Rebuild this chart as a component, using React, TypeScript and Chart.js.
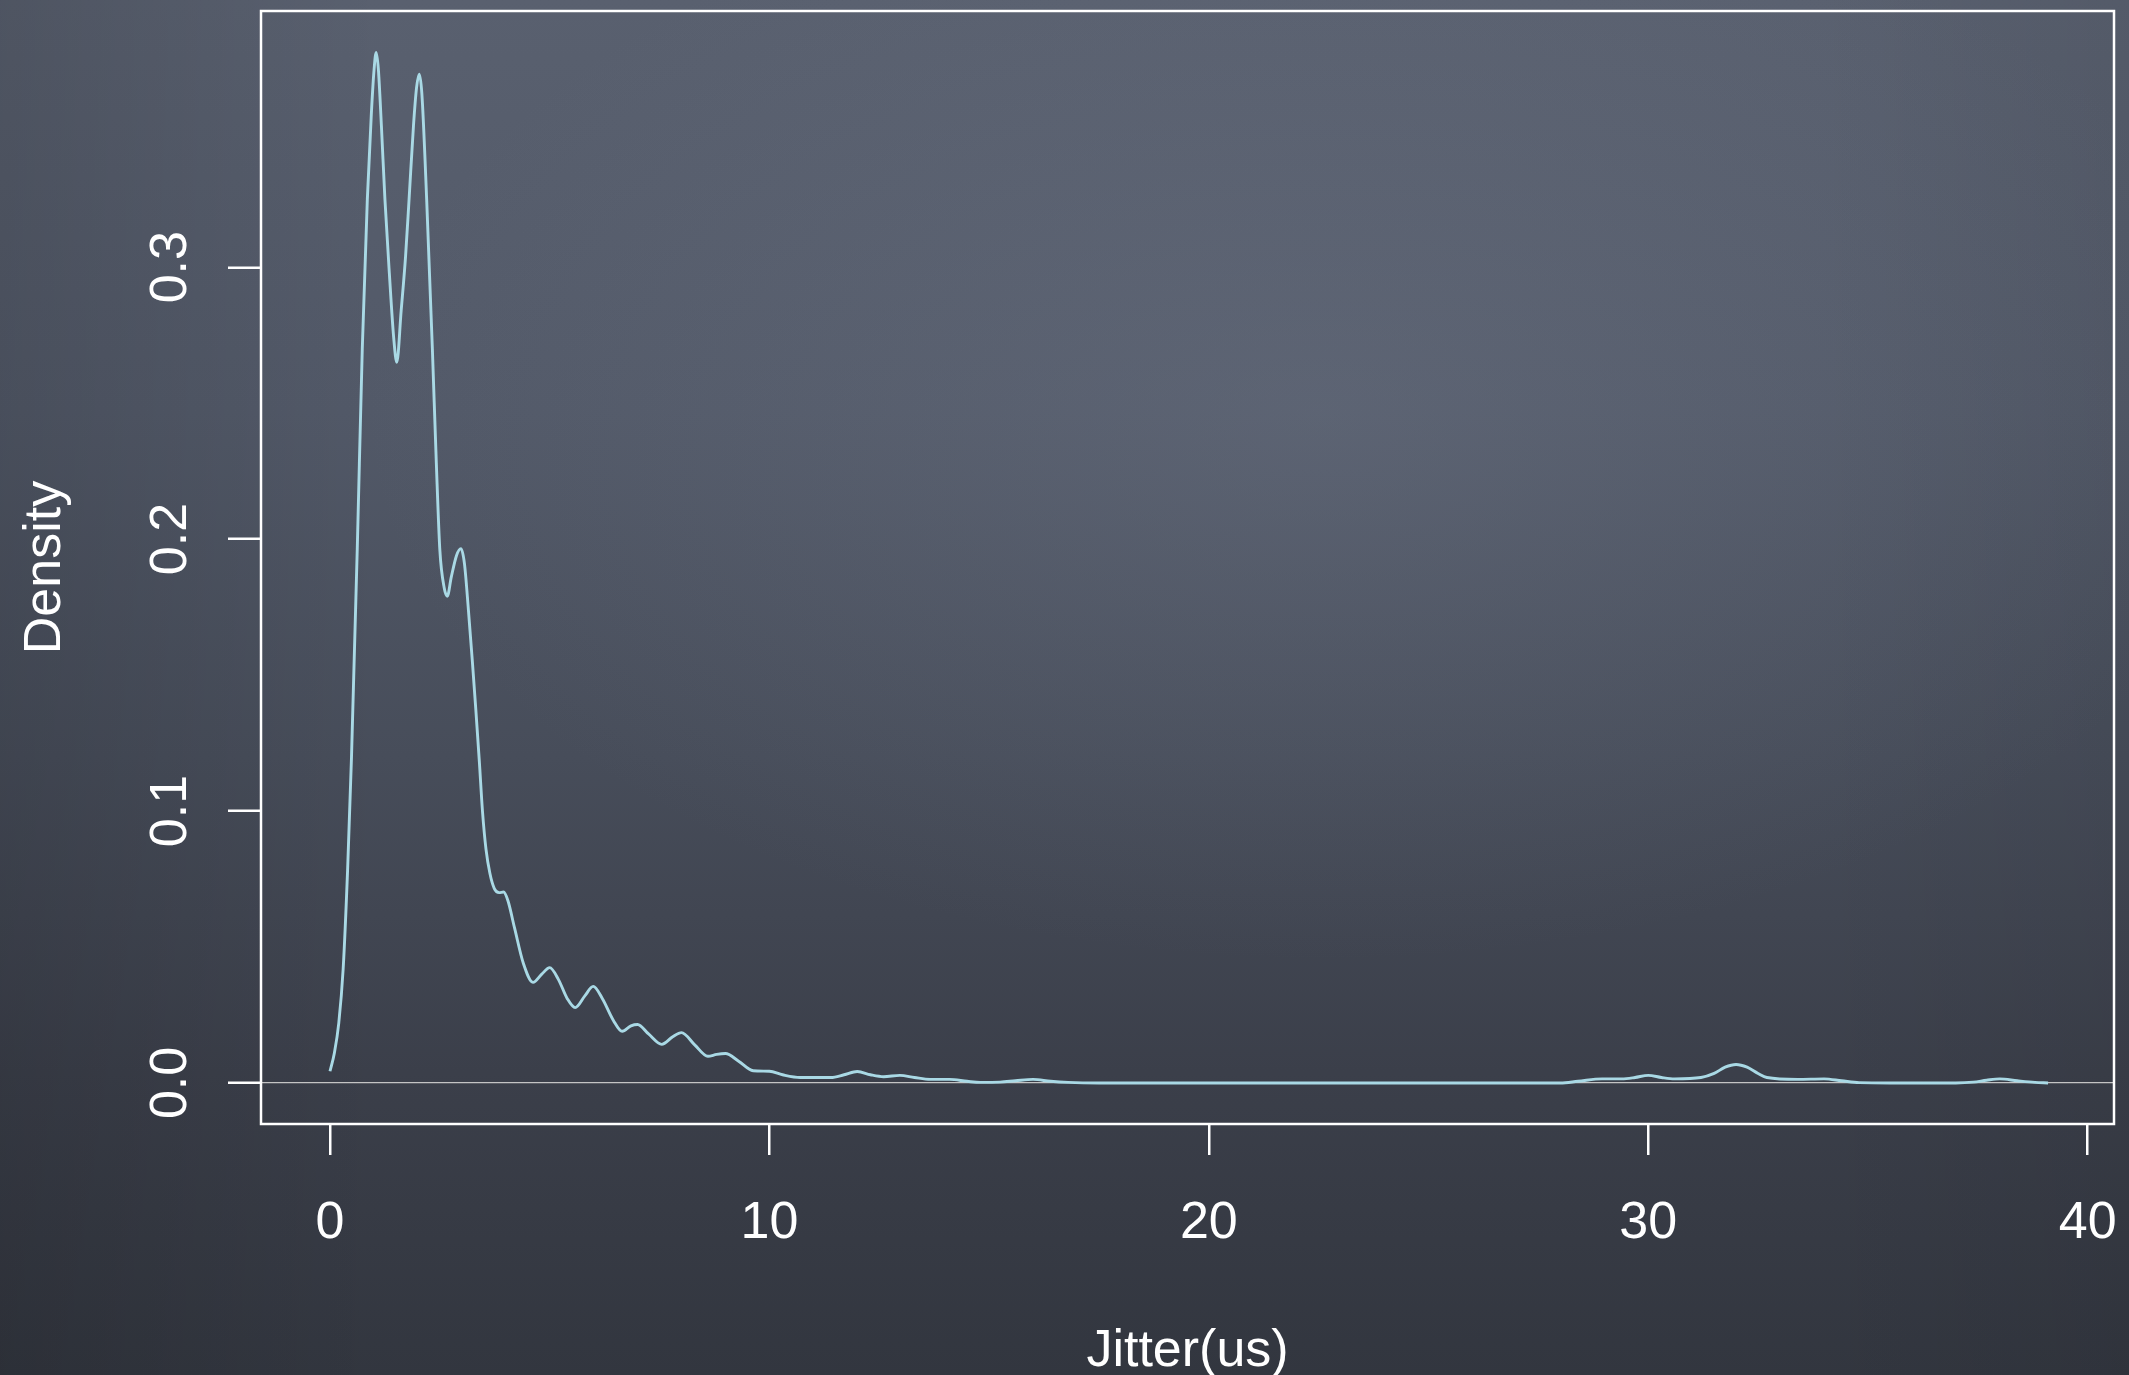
import React, { useEffect, useRef } from "react";
import { Chart, registerables } from "chart.js";

Chart.register(...registerables);

// Kernel density estimate of jitter
const jitterX = [
  0, 0.1, 0.2, 0.3, 0.4, 0.49, 0.62, 0.735, 0.85, 0.94, 1.0, 1.05, 1.1, 1.17, 1.25, 1.35, 1.45, 1.52,
  1.62, 1.72, 1.8, 1.9, 1.97, 2.03, 2.09, 2.2, 2.33, 2.42, 2.5, 2.6, 2.67, 2.76, 2.88, 2.98, 3.06, 3.15,
  3.24, 3.32, 3.4, 3.47, 3.55, 3.64, 3.74, 3.85, 3.95, 4.05, 4.2, 4.4, 4.62, 4.82, 5.0, 5.2, 5.4, 5.58,
  5.8, 5.99, 6.2, 6.45, 6.65, 6.85, 7.0, 7.25, 7.55, 7.8, 8.0, 8.3, 8.6, 8.8, 9.0, 9.3, 9.63, 10.0, 10.3,
  10.7, 11.4, 11.7, 12.0, 12.3, 12.6, 12.97, 13.3, 13.66, 14.1, 14.5, 14.8, 15.25, 15.6, 16.0, 16.4,
  16.8, 17.5, 20, 25, 28.0, 28.4, 28.95, 29.4, 29.7, 30.0, 30.3, 30.6, 31.2, 31.5, 31.75, 32.0, 32.25,
  32.5, 32.7, 33.4, 34.0, 34.4, 34.8, 35.5, 37.0, 37.4, 37.7, 38.0, 38.4, 38.8, 39.1,
];
const densityY = [
  0.0043, 0.011, 0.022, 0.042, 0.078, 0.12, 0.196, 0.27, 0.325, 0.356, 0.372, 0.379, 0.373, 0.352,
  0.325, 0.298, 0.274, 0.265, 0.284, 0.304, 0.325, 0.352, 0.366, 0.371, 0.364, 0.325, 0.27, 0.228, 0.196,
  0.182, 0.179, 0.186, 0.194, 0.1965, 0.191, 0.174, 0.155, 0.137, 0.118, 0.1, 0.086, 0.077, 0.0715,
  0.07, 0.0702, 0.067, 0.057, 0.044, 0.037, 0.04, 0.0424, 0.038, 0.031, 0.0277, 0.032, 0.0355, 0.031,
  0.023, 0.019, 0.021, 0.0215, 0.018, 0.0142, 0.017, 0.0185, 0.014, 0.0098, 0.0105, 0.0108, 0.008,
  0.0045, 0.0043, 0.003, 0.002, 0.002, 0.003, 0.0042, 0.003, 0.0023, 0.0028, 0.002, 0.0013, 0.0013,
  0.0006, 0.0002, 0.0003, 0.0008, 0.0013, 0.0006, 0.0002, 0, 0, 0, 0, 0.0006, 0.0015, 0.0015, 0.002,
  0.0028, 0.002, 0.0015, 0.002, 0.0035, 0.0058, 0.0068, 0.0058, 0.0035, 0.002, 0.0013, 0.0015, 0.0008,
  0.0001, 0, 0, 0.0003, 0.001, 0.0015, 0.0008, 0.0002, 0,
];
const xTickValues = [0, 10, 20, 30, 40];
const yTickValues = [0, 0.1, 0.2, 0.3];
const xTitle = "Jitter(us)";
const yTitle = "Density";

const FONT = '"Liberation Sans", Arial, Helvetica, sans-serif';
const FONT_SIZE = 52;

export default function App() {
  const ref = useRef<HTMLCanvasElement>(null);

  useEffect(() => {
    document.body.style.margin = "0";
    const canvas = ref.current;
    if (!canvas) return;

    const boxPlugin = {
      id: "rBox",
      afterDatasetsDraw(chart: any) {
        const { ctx, chartArea: a } = chart;
        ctx.save();
        ctx.strokeStyle = "#ffffff";
        ctx.lineWidth = 2.5;
        ctx.strokeRect(a.left, a.top, a.right - a.left, a.bottom - a.top);
        // y tick labels, parallel to the axis (R style)
        const ys = chart.scales.y;
        ctx.fillStyle = "#ffffff";
        ctx.font = `${FONT_SIZE}px ${FONT}`;
        ctx.textAlign = "center";
        ctx.textBaseline = "alphabetic";
        yTickValues.forEach((v) => {
          const py = ys.getPixelForValue(v);
          ctx.save();
          ctx.translate(a.left - 75, py);
          ctx.rotate(-Math.PI / 2);
          ctx.fillText(v.toFixed(1), 0, 0);
          ctx.restore();
        });
        ctx.restore();
      },
    };

    const points = jitterX.map((x, i) => ({ x, y: densityY[i] }));

    const chart = new Chart(canvas, {
      type: "line",
      data: {
        datasets: [
          {
            data: points,
            borderColor: "#a9d9e5",
            borderWidth: 2.9,
            pointRadius: 0,
            fill: false,
            cubicInterpolationMode: "monotone",
          },
        ],
      },
      options: {
        responsive: false,
        animation: false,
        devicePixelRatio: 1,
        layout: { padding: { top: 11, right: 15, left: 0, bottom: 0 } },
        plugins: { legend: { display: false }, tooltip: { enabled: false } },
        scales: {
          x: {
            type: "linear",
            bounds: "data",
            min: -1.57,
            max: 40.6,
            afterBuildTicks: (s: any) => {
              s.ticks = xTickValues.map((v) => ({ value: v }));
            },
            afterFit: (s: any) => {
              s.height = 251;
              s.paddingLeft = 0;
              s.paddingRight = 0;
            },
            border: { display: false },
            grid: {
              drawOnChartArea: false,
              drawTicks: true,
              tickLength: 31,
              color: "#ffffff",
              lineWidth: 2.5,
            },
            ticks: {
              color: "#ffffff",
              font: { family: FONT, size: FONT_SIZE, lineHeight: 1.2 },
              padding: 37,
              maxRotation: 0,
              autoSkip: false,
              callback: (v: any) => String(v),
            },
            title: {
              display: true,
              text: xTitle,
              color: "#ffffff",
              font: { family: FONT, size: FONT_SIZE, lineHeight: 0.9 },
              padding: { top: 0, bottom: 0 },
            },
          },
          y: {
            type: "linear",
            bounds: "data",
            min: -0.0151,
            max: 0.3942,
            afterBuildTicks: (s: any) => {
              s.ticks = yTickValues.map((v) => ({ value: v }));
            },
            afterFit: (s: any) => {
              s.width = 261;
              s.paddingTop = 0;
              s.paddingBottom = 0;
            },
            border: { display: false },
            grid: {
              drawOnChartArea: true,
              drawTicks: true,
              tickLength: 33,
              color: (c: any) => (c.tick && c.tick.value === 0 ? "#c4c4c4" : "rgba(0,0,0,0)"),
              lineWidth: 1.3,
              tickColor: "#ffffff",
              tickWidth: 2.5,
            },
            ticks: { display: false },
            title: {
              display: true,
              text: yTitle,
              color: "#ffffff",
              font: { family: FONT, size: FONT_SIZE, lineHeight: 1.2 },
              padding: { top: 14, bottom: 0 },
            },
          },
        },
      },
      plugins: [boxPlugin],
    } as any);

    return () => chart.destroy();
  }, []);

  return (
    <div
      style={{
        position: "fixed",
        left: 0,
        top: 0,
        width: 2129,
        height: 1375,
        overflow: "hidden",
        background:
          "radial-gradient(ellipse 45% 40% at 62% 30%, rgba(120,128,145,0.28), rgba(120,128,145,0) 100%)," +
          "linear-gradient(90deg, rgba(0,0,0,0.12) 0%, rgba(0,0,0,0) 18%, rgba(0,0,0,0) 85%, rgba(0,0,0,0.06) 100%)," +
          "linear-gradient(180deg, #59606f 0%, #525968 30%, #474d5a 55%, #3b3f4a 78%, #32363f 100%)",
      }}
    >
      <canvas ref={ref} width={2129} height={1375} style={{ display: "block" }} />
    </div>
  );
}
